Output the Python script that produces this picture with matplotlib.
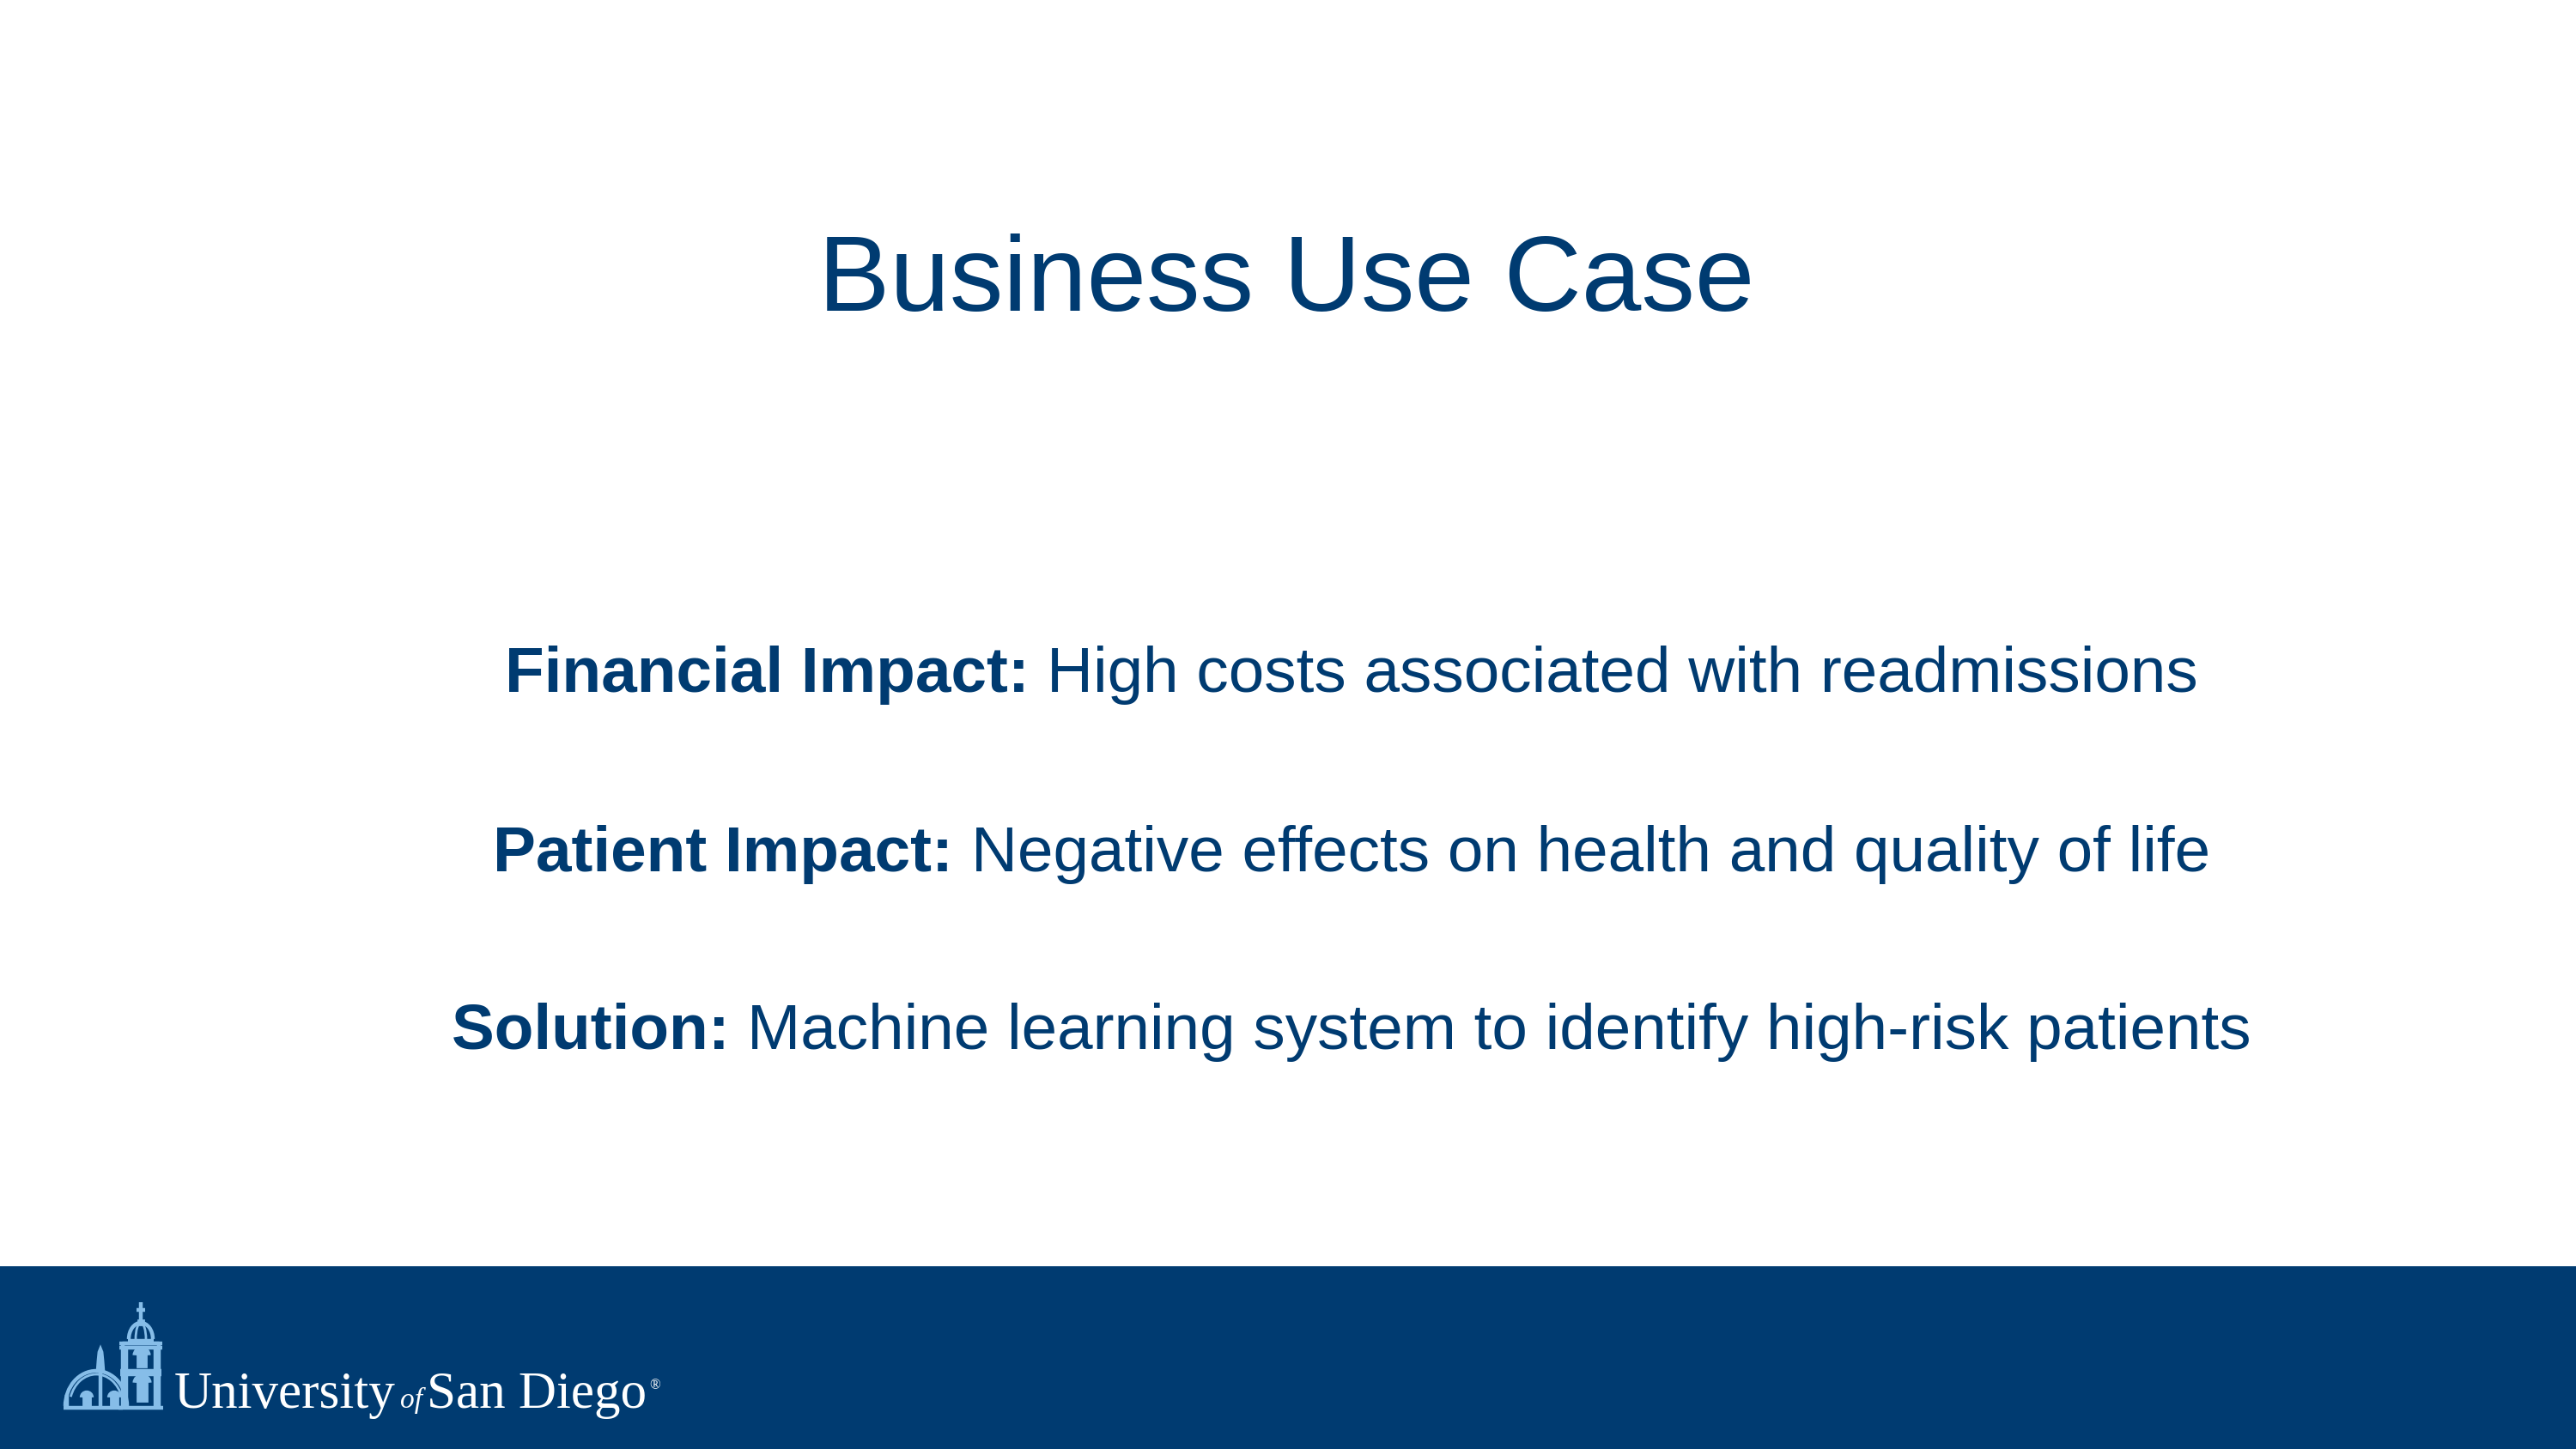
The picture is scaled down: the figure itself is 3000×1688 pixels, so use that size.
import matplotlib
matplotlib.use("Agg")
import matplotlib.pyplot as plt
from matplotlib.patches import Rectangle, Arc, Polygon

NAVY = "#003B71"
LIGHT = "#86BDE8"

title = "Business Use Case"
heads = ["Financial Impact:", "Patient Impact:", "Solution:"]
bodies = ["High costs associated with readmissions",
          "Negative effects on health and quality of life",
          "Machine learning system to identify high-risk patients"]
baselines = [806, 1015, 1222]   # px from top

W, H, DPI = 3000, 1688, 200
fig = plt.figure(figsize=(W / DPI, H / DPI), dpi=DPI)
ax = fig.add_axes([0, 0, 1, 1])
ax.set_xlim(0, W)
ax.set_ylim(H, 0)
ax.axis("off")
plt.rcParams["font.family"] = ["Liberation Sans", "DejaVu Sans"]

# title
ax.text(1498, 362, title, fontsize=45, color=NAVY, ha="center", va="baseline")

r = fig.canvas.get_renderer()

def width(t):
    bb = t.get_window_extent(renderer=r)
    return bb.width

# body lines: bold head + regular tail, centred together
cx = 1574
for h, b, y in zip(heads, bodies, baselines):
    t1 = ax.text(0, y, h + " ", fontsize=26.9, fontweight="bold", color=NAVY, va="baseline")
    t2 = ax.text(0, y, b, fontsize=26.9, color=NAVY, va="baseline")
    w1, w2 = width(t1), width(t2)
    x0 = cx - (w1 + w2) / 2
    t1.set_x(x0)
    t2.set_x(x0 + w1)

# footer band
ax.add_patch(Rectangle((0, 1476), W, H - 1476, color=NAVY, zorder=1))

# logo building (simplified line drawing)
lw = 1.6
kw = dict(color=LIGHT, lw=lw, zorder=3, solid_capstyle="butt")
# tower
ax.plot([143, 143, 185, 185], [1640, 1565, 1565, 1640], **kw)
ax.plot([139, 189], [1565, 1565], **kw)
ax.plot([139, 189], [1570, 1570], **kw)
ax.plot([140, 188], [1597, 1597], **kw)
ax.plot([140, 188], [1601, 1601], **kw)
ax.plot([147, 147], [1570, 1640], **kw)
ax.plot([181, 181], [1570, 1640], **kw)
ax.plot([138, 190], [1640, 1640], **kw)
# tower windows
for (x0, y0, x1, y1) in [(160, 1574, 170, 1592), (160, 1606, 171, 1632)]:
    ax.add_patch(Rectangle((x0, y0 + 5), x1 - x0, y1 - y0 - 5, color=LIGHT, zorder=3))
    ax.add_patch(Arc(((x0 + x1) / 2, y0 + 5), x1 - x0, 10, theta1=180, theta2=360,
                     color=LIGHT, lw=4, zorder=3))
# tower dome
ax.plot([149, 179], [1562, 1562], **kw)
ax.add_patch(Arc((164, 1560), 28, 38, theta1=180, theta2=360, color=LIGHT, lw=lw, zorder=3))
ax.add_patch(Arc((164, 1560), 12, 38, theta1=180, theta2=360, color=LIGHT, lw=1.0, zorder=3))
ax.plot([164, 164], [1517, 1542], **kw)
ax.plot([159, 169], [1526, 1526], **kw)
ax.add_patch(Rectangle((161, 1538), 6, 5, color=LIGHT, zorder=3))
# big dome
ax.add_patch(Arc((112, 1638), 72, 82, theta1=180, theta2=360, color=LIGHT, lw=lw, zorder=3))
ax.add_patch(Arc((112, 1638), 62, 74, theta1=200, theta2=340, color=LIGHT, lw=1.0, zorder=3))
ax.plot([117, 117], [1598, 1640], **kw)
ax.plot([74, 143], [1640, 1640], **kw)
ax.plot([78, 78], [1625, 1640], **kw)
# statue
ax.add_patch(Polygon([[113, 1598], [114, 1585], [115, 1575], [117, 1570],
                      [119, 1575], [120, 1585], [121, 1598]], color=LIGHT, zorder=3))
# dome windows
for xc in [101, 133]:
    ax.add_patch(Rectangle((xc - 4, 1628), 8, 12, color=LIGHT, zorder=3))
    ax.add_patch(Arc((xc, 1628), 8, 8, theta1=180, theta2=360, color=LIGHT, lw=3, zorder=3))

# logo wordmark
serif = ["Liberation Serif", "DejaVu Serif"]
lx, ly = 203, 1640
parts = [("University", 22, "normal", 5), ("of", 12, "italic", 5),
         ("San Diego", 22, "normal", 3)]
for s, fs, st, gap in parts:
    t = ax.text(lx, ly, s, fontsize=fs, style=st, family=serif, color="white",
                va="baseline", zorder=4)
    lx += width(t) + gap
ax.text(lx, ly - 22, "\u00ae", fontsize=6, family=serif, color="white",
        va="baseline", zorder=4)

fig.savefig("out.png", dpi=DPI, facecolor="white")
